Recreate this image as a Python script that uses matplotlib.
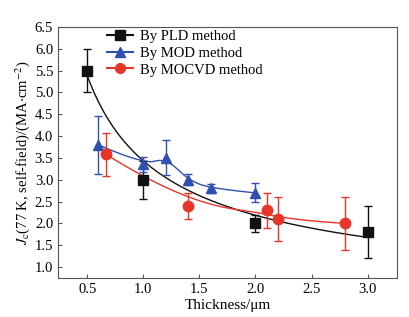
import numpy as np
import matplotlib
matplotlib.use("Agg")
import matplotlib.pyplot as plt

plt.rcParams['font.family'] = ['Liberation Serif', 'DejaVu Serif']
plt.rcParams['mathtext.fontset'] = 'stix'

pld_x = [0.5, 1.0, 2.0, 3.0]
pld_y = [5.5, 3.0, 2.0, 1.8]
pld_e = [0.5, 0.43, 0.2, 0.6]
pld_in_fit = [True, False, True, True]

mod_x = [0.6, 1.0, 1.2, 1.4, 1.6, 2.0]
mod_y = [3.8, 3.35, 3.5, 3.0, 2.8, 2.7]
mod_e = [0.67, 0.17, 0.4, 0.13, 0.1, 0.22]

mocvd_x = [0.67, 1.4, 2.1, 2.2, 2.8]
mocvd_y = [3.58, 2.4, 2.3, 2.1, 2.0]
mocvd_e = [0.49, 0.3, 0.4, 0.5, 0.6]

xticks = [0.5, 1.0, 1.5, 2.0, 2.5, 3.0]
yticks = [1.0, 1.5, 2.0, 2.5, 3.0, 3.5, 4.0, 4.5, 5.0, 5.5, 6.0, 6.5]


def bspline(xs, ys, k=2, n=300):
    P = np.column_stack([xs, ys]).astype(float)
    m = len(P)
    k = min(k, m - 1)
    knots = np.concatenate([np.zeros(k), np.linspace(0, 1, m - k + 1), np.ones(k)])

    def basis(i, kk, t):
        if kk == 0:
            if knots[i] <= t < knots[i + 1]:
                return 1.0
            if t == 1.0 and knots[i] < knots[i + 1] and knots[i + 1] == 1.0:
                return 1.0
            return 0.0
        a = 0.0
        d1 = knots[i + kk] - knots[i]
        if d1 > 0:
            a += (t - knots[i]) / d1 * basis(i, kk - 1, t)
        d2 = knots[i + kk + 1] - knots[i + 1]
        if d2 > 0:
            a += (knots[i + kk + 1] - t) / d2 * basis(i + 1, kk - 1, t)
        return a

    ts = np.linspace(0, 1, n)
    out = np.array([sum(basis(i, k, t) * P[i] for i in range(m)) for t in ts])
    return out[:, 0], out[:, 1]


def powfit(xs, ys, use):
    xs = np.asarray(xs); ys = np.asarray(ys); use = np.asarray(use)
    lx = np.log(xs[use]); ly = np.log(ys[use])
    slope, inter = np.polyfit(lx, ly, 1)
    xx = np.linspace(xs.min(), xs.max(), 200)
    return xx, np.exp(inter) * xx ** slope


fig = plt.figure(figsize=(4.1, 3.17), dpi=100)
ax = fig.add_axes([0.1415, 0.123, 0.8265, 0.792])

black = '#111111'
blue = '#3050b0'
red = '#e8352a'

fx, fy = powfit(pld_x, pld_y, pld_in_fit)
ax.plot(fx, fy, color=black, lw=1.0)
bx, by = bspline(mod_x, mod_y, k=2)
ax.plot(bx, by, color=blue, lw=1.0)
rx, ry = bspline(mocvd_x, mocvd_y, k=3)
ax.plot(rx, ry, color=red, lw=1.0)

ax.errorbar(pld_x, pld_y, yerr=pld_e, fmt='s', color=black, ms=7, capsize=3, elinewidth=1.0, capthick=1.0, zorder=3)
ax.errorbar(mod_x, mod_y, yerr=mod_e, fmt='^', color=blue, ms=7.5, capsize=3, elinewidth=1.0, capthick=1.0, zorder=3)
ax.errorbar(mocvd_x, mocvd_y, yerr=mocvd_e, fmt='o', color=red, ms=7.5, capsize=3, elinewidth=1.0, capthick=1.0, zorder=3)

ax.plot([], [], '-s', color=black, ms=7, lw=1.5, label='By PLD method')
ax.plot([], [], '-^', color=blue, ms=7, lw=1.5, label='By MOD method')
ax.plot([], [], '-o', color=red, ms=7, lw=1.5, label='By MOCVD method')
ax.legend(loc='upper left', bbox_to_anchor=(0.115, 1.03), frameon=False, fontsize=10.5,
          handlelength=1.8, handletextpad=0.45, labelspacing=0.25, borderaxespad=0.3)

ax.set_xlim(0.24, 3.26)
ax.set_ylim(0.75, 6.5)
ax.set_xticks(xticks)
ax.set_xticklabels([f'{v:.1f}' for v in xticks])
ax.set_yticks(yticks)
ax.set_yticklabels([f'{v:.1f}' for v in yticks])
ax.tick_params(direction='in', labelsize=10.5, length=3, color='#555555')
for s in ax.spines.values():
    s.set_color('#555555')
ax.set_xlabel('Thickness/μm', fontsize=11, labelpad=2)
ax.set_ylabel(r'$J_\mathrm{c}$(77 K, self-field)/(MA$\cdot$cm$^{-2}$)', fontsize=10.5, labelpad=2)

fig.savefig('out.png', dpi=100)
